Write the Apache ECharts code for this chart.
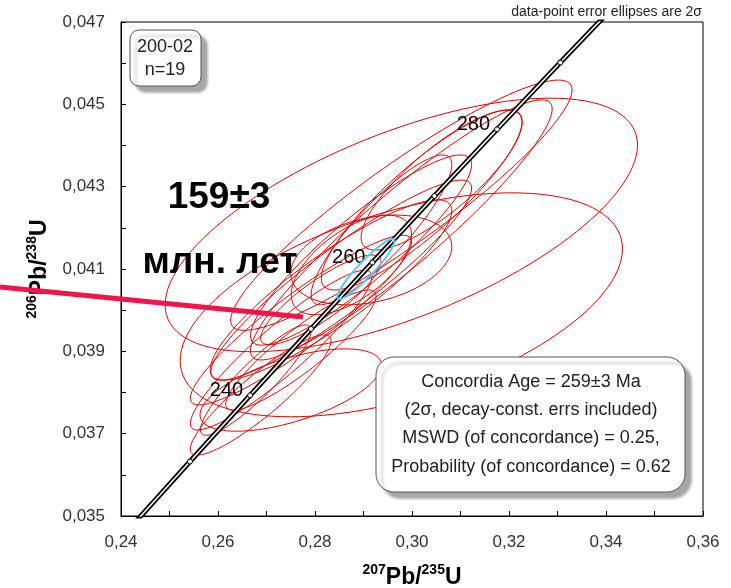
<!DOCTYPE html>
<html>
<head>
<meta charset="utf-8">
<script src="https://cdn.jsdelivr.net/npm/echarts@6/dist/echarts.min.js"></script>
<style>
html,body{margin:0;padding:0;background:#fff;}
#chart{width:731px;height:588px;}
</style>
</head>
<body>
<div id="chart"></div>
<script>
// ---------- DATA ----------
// Concordia curve (age in Ma, 207Pb/235U, 206Pb/238U)
const concAge = [220, 230, 240, 250, 260, 270, 280, 290, 300];
const concX = [0.241931, 0.254222, 0.266635, 0.279172, 0.291832, 0.304617, 0.317529, 0.330569, 0.343738];
const concY = [0.0347165, 0.036323, 0.037932, 0.039543, 0.041157, 0.042773, 0.044392, 0.046014, 0.047637];
const labeledAges = [240, 260, 280];

// Analyses (n=19): ratios, 2-sigma absolute errors, error correlation
const pb207u235 = [0.2978, 0.2978, 0.2978, 0.2978, 0.3020, 0.3061, 0.2833, 0.2771, 0.2730, 0.2688, 0.2750, 0.2875, 0.2916, 0.2812, 0.2895, 0.2854, 0.2937, 0.2771, 0.2678];
const pb206u238 = [0.04207, 0.04013, 0.04255, 0.04195, 0.04268, 0.04316, 0.04049, 0.03976, 0.03903, 0.03794, 0.03806, 0.04110, 0.04122, 0.04025, 0.04146, 0.04073, 0.04195, 0.03903, 0.03830];
const err207 = [0.0487, 0.0456, 0.0352, 0.0311, 0.0207, 0.0166, 0.0249, 0.0228, 0.0187, 0.0145, 0.0187, 0.0124, 0.0166, 0.0124, 0.0228, 0.0269, 0.0145, 0.0155, 0.0114];
const err206 = [0.00308, 0.00272, 0.00304, 0.00316, 0.00219, 0.00170, 0.00219, 0.00206, 0.00194, 0.00146, 0.00100, 0.00121, 0.00109, 0.00109, 0.00231, 0.00243, 0.00182, 0.00146, 0.00134];
const rho = [0.63, 0.50, 0.92, 0.93, 0.87, 0.82, 0.88, 0.92, 0.92, 0.90, 0.60, 0.60, 0.30, 0.85, 0.90, 0.92, 0.87, 0.90, 0.90];

// Concordia age ellipse
const caX = [0.2905];
const caY = [0.0410];
const caErrX = [0.0059];
const caErrY = [0.00073];
const caRho = [0.93];

const xTicks = [0.24, 0.26, 0.28, 0.30, 0.32, 0.34, 0.36];
const yTicks = [0.035, 0.037, 0.039, 0.041, 0.043, 0.045, 0.047];

// ---------- CHART ----------
const FONT = '"Liberation Sans", Arial, sans-serif';
const chart = echarts.init(document.getElementById('chart'), null, {renderer: 'canvas'});

const ellData = pb207u235.map((v, i) => [v, pb206u238[i], err207[i], err206[i], rho[i]]);
const caData = caX.map((v, i) => [v, caY[i], caErrX[i], caErrY[i], caRho[i]]);
const concData = concAge.map((a, i) => ({
  value: [concX[i], concY[i]],
  label: labeledAges.includes(a) ? {show: true} : {show: false}
}));

function ellipseRenderer(color, width, dash) {
  return function (params, api) {
    const cx = api.value(0), cy = api.value(1), ex = api.value(2), ey = api.value(3), r = api.value(4);
    const pts = [];
    const n = 120;
    const s = Math.sqrt(1 - r * r);
    for (let k = 0; k <= n; k++) {
      const t = k / n * 2 * Math.PI;
      const x = cx + ex * Math.cos(t);
      const y = cy + ey * (r * Math.cos(t) + s * Math.sin(t));
      pts.push(api.coord([x, y]));
    }
    return {
      type: 'polyline',
      shape: {points: pts},
      style: {fill: null, stroke: color, lineWidth: width, lineDash: dash || null}
    };
  };
}

const nameRich = {
  main: {fontFamily: FONT, fontSize: 23, fontWeight: 'bold', color: '#000', lineHeight: 26, verticalAlign: 'bottom'},
  sup: {fontFamily: FONT, fontSize: 14, fontWeight: 'bold', color: '#000', lineHeight: 26, verticalAlign: 'top', padding: [0, 0, 10, 0]}
};

const option = {
  animation: false,
  backgroundColor: '#fff',
  title: {
    text: 'data-point error ellipses are 2σ',
    right: 29, top: 5, padding: 0,
    textStyle: {fontFamily: FONT, fontSize: 14, fontWeight: 'normal', color: '#222'}
  },
  grid: {left: 121, right: 28, top: 22, bottom: 72, containLabel: false, outerBoundsMode: 'none',
    show: true, borderColor: '#000', borderWidth: 1},
  xAxis: {
    type: 'value', min: xTicks[0], max: xTicks[xTicks.length - 1], interval: 0.02,
    name: '{sup|207}{main|Pb/}{sup|235}{main|U}',
    nameLocation: 'middle', nameGap: 47,
    nameTextStyle: {rich: nameRich},
    axisLine: {show: true, lineStyle: {color: '#000', width: 1}},
    axisTick: {show: true, inside: true, length: 5, lineStyle: {color: '#000'}},
    minorTick: {show: true, splitNumber: 2, length: 5, lineStyle: {color: '#000'}},
    splitLine: {show: false},
    axisLabel: {
      margin: 18, fontFamily: FONT, fontSize: 17, color: '#333',
      formatter: v => v.toFixed(2).replace('.', ',')
    }
  },
  yAxis: {
    type: 'value', min: yTicks[0], max: yTicks[yTicks.length - 1], interval: 0.002,
    name: '{sup|206}{main|Pb/}{sup|238}{main|U}',
    nameLocation: 'middle', nameGap: 57, nameRotate: 90,
    nameTextStyle: {rich: nameRich},
    axisLine: {show: true, lineStyle: {color: '#000', width: 1}},
    axisTick: {show: true, inside: true, length: 5, lineStyle: {color: '#000'}},
    minorTick: {show: true, splitNumber: 2, length: 5, lineStyle: {color: '#000'}},
    splitLine: {show: false},
    axisLabel: {
      margin: 16, fontFamily: FONT, fontSize: 17, color: '#333',
      formatter: v => v.toFixed(3).replace('.', ',')
    }
  },
  series: [
    {
      type: 'custom', name: 'analyses', z: 2,
      renderItem: ellipseRenderer('#e60000', 1),
      encode: {x: 0, y: 1},
      data: ellData, clip: true, silent: true
    },
    {
      type: 'line', name: 'concordia-outer', z: 3,
      data: concData.map(d => d.value), showSymbol: false, symbol: 'none',
      lineStyle: {color: '#000', width: 5}, clip: true, silent: true
    },
    {
      type: 'line', name: 'concordia-inner', z: 4,
      data: concData, symbol: 'circle', symbolSize: 5, showSymbol: true,
      itemStyle: {color: '#fff', borderColor: '#000', borderWidth: 1},
      lineStyle: {color: '#fff', width: 1.5}, clip: true, silent: true,
      label: {
        show: false, position: 'left', distance: 4, offset: [0, -5],
        fontFamily: FONT, fontSize: 20, color: '#000',
        formatter: p => concAge[p.dataIndex]
      }
    },
    {
      type: 'custom', name: 'concordia-age', z: 5,
      renderItem: ellipseRenderer('#5bc6ee', 2),
      encode: {x: 0, y: 1},
      data: caData, clip: true, silent: true
    }
  ],
  graphic: [
    // sample box
    {type: 'rect', z: 10, shape: {x: 130, y: 30, width: 71, height: 56, r: 9},
      style: {fill: '#fff', stroke: '#555', lineWidth: 1, shadowBlur: 3, shadowOffsetX: 6, shadowOffsetY: 6, shadowColor: 'rgba(0,0,0,0.35)'}},
    {type: 'text', z: 11, x: 165, y: 47, style: {text: '200-02', font: '18px ' + FONT, fill: '#222', textAlign: 'center', textVerticalAlign: 'middle'}},
    {type: 'text', z: 11, x: 165, y: 70, style: {text: 'n=19', font: '18px ' + FONT, fill: '#222', textAlign: 'center', textVerticalAlign: 'middle'}},
    // result box
    {type: 'rect', z: 10, shape: {x: 376, y: 357, width: 309, height: 135, r: 18},
      style: {fill: '#fff', stroke: '#555', lineWidth: 1, shadowBlur: 3, shadowOffsetX: 6, shadowOffsetY: 6, shadowColor: 'rgba(0,0,0,0.35)'}},
    {type: 'text', z: 11, x: 531, y: 382, style: {text: 'Concordia Age = 259±3 Ma', font: '18px ' + FONT, fill: '#222', textAlign: 'center', textVerticalAlign: 'middle'}},
    {type: 'text', z: 11, x: 531, y: 410, style: {text: '(2σ, decay-const. errs included)', font: '18px ' + FONT, fill: '#222', textAlign: 'center', textVerticalAlign: 'middle'}},
    {type: 'text', z: 11, x: 531, y: 438, style: {text: 'MSWD (of concordance) = 0.25,', font: '18px ' + FONT, fill: '#222', textAlign: 'center', textVerticalAlign: 'middle'}},
    {type: 'text', z: 11, x: 531, y: 467, style: {text: 'Probability (of concordance) = 0.62', font: '18px ' + FONT, fill: '#222', textAlign: 'center', textVerticalAlign: 'middle'}},
    // annotation
    {type: 'text', z: 11, x: 219, y: 198, style: {text: '159±3', font: 'bold 37px ' + FONT, fill: '#000', textAlign: 'center', textVerticalAlign: 'middle'}},
    {type: 'text', z: 11, x: 220, y: 263, style: {text: 'млн. лет', font: 'bold 37px ' + FONT, fill: '#000', textAlign: 'center', textVerticalAlign: 'middle'}},
    {type: 'line', z: 12, shape: {x1: 0, y1: 287, x2: 303, y2: 317}, style: {stroke: '#f0144a', lineWidth: 5}}
  ]
};
chart.setOption(option);
</script>
</body>
</html>
